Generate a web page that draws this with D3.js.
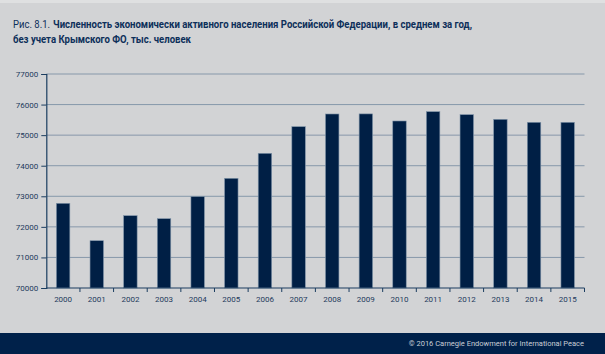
<!DOCTYPE html>
<html>
<head>
<meta charset="utf-8">
<script src="https://cdn.jsdelivr.net/npm/d3@7"></script>
<style>
  body { margin: 0; background: #d2d3d5; }
  svg { display: block; }
</style>
</head>
<body>
<div class="container"></div>
<script>
// chart data
const years = ["2000", "2001", "2002", "2003", "2004", "2005", "2006", "2007",
  "2008", "2009", "2010", "2011", "2012", "2013", "2014", "2015"];
const values = [72770, 71547, 72365, 72267, 72990, 73588, 74405, 75277,
  75692, 75695, 75463, 75768, 75670, 75517, 75420, 75420];
const yTicks = [70000, 71000, 72000, 73000, 74000, 75000, 76000, 77000];

const width = 605;
const height = 354;
const margin = { top: 74, bottom: 66, left: 46.3, right: 20.5 };
const font = "'Roboto', 'Noto Sans', sans-serif";

const svg = d3.select(".container")
  .append("svg")
  .attr("width", width)
  .attr("height", height)
  .style("font-family", font);

// background
svg.append("rect").attr("width", width).attr("height", height).attr("fill", "#d2d3d5");
svg.append("rect").attr("width", width).attr("height", 3).attr("fill", "#dfe0e1");

// title (condensed to the width of the original)
const titleParts = [
  { text: "Рис. 8.1.", x: 13, y: 28, len: 37, bold: false },
  { text: "Численность экономически активного населения Российской Федерации, в среднем за год,", x: 53, y: 28, len: 419, bold: true },
  { text: "без учета Крымского ФО, тыс. человек", x: 13, y: 43, len: 178, bold: true }
];
svg.append("g")
  .selectAll("text")
  .data(titleParts)
  .join("text")
  .attr("x", d => d.x)
  .attr("y", d => d.y)
  .attr("fill", "#0d2f5a")
  .attr("textLength", d => d.len)
  .attr("lengthAdjust", "spacingAndGlyphs")
  .style("font-size", "11px")
  .style("font-weight", d => d.bold ? "bold" : "normal")
  .text(d => d.text);

// scales
const xScale = d3.scaleBand()
  .domain(years)
  .range([margin.left, width - margin.right])
  .paddingInner(0.6)
  .paddingOuter(0.3);

const yScale = d3.scaleLinear()
  .domain([70000, 77000])
  .range([height - margin.bottom, margin.top]);

// grid lines
svg.append("g")
  .selectAll("line")
  .data(yTicks.slice(1))
  .join("line")
  .attr("x1", margin.left)
  .attr("x2", width - margin.right)
  .attr("y1", d => yScale(d))
  .attr("y2", d => yScale(d))
  .attr("stroke", "#8798aa")
  .attr("stroke-width", 1);

// bars
svg.append("g")
  .selectAll("rect")
  .data(values)
  .join("rect")
  .attr("x", (d, i) => xScale(years[i]))
  .attr("y", d => yScale(d))
  .attr("width", xScale.bandwidth())
  .attr("height", d => yScale(70000) - yScale(d))
  .attr("fill", "#001f45")
  .attr("stroke", "#7f93a8")
  .attr("stroke-width", 0.6);

// x axis: ticks at band boundaries
const step = xScale.step();
const boundaries = d3.range(years.length + 1).map(i => margin.left + i * step);
const xAxisG = svg.append("g");
xAxisG.append("line")
  .attr("x1", margin.left)
  .attr("x2", width - margin.right)
  .attr("y1", yScale(70000))
  .attr("y2", yScale(70000))
  .attr("stroke", "#1b3d60")
  .attr("stroke-width", 1.2);
xAxisG.selectAll(".tick")
  .data(boundaries.slice(1))
  .join("line")
  .attr("x1", d => d)
  .attr("x2", d => d)
  .attr("y1", yScale(70000))
  .attr("y2", yScale(70000) + 4)
  .attr("stroke", "#1b3d60")
  .attr("stroke-width", 1);
xAxisG.selectAll("text")
  .data(years)
  .join("text")
  .attr("x", d => xScale(d) + xScale.bandwidth() / 2)
  .attr("y", yScale(70000) + 14)
  .attr("text-anchor", "middle")
  .attr("fill", "#1e3a5c")
  .style("font-size", "8px")
  .text(d => d);

// y axis
function yAxis(g) {
  g.call(d3.axisLeft(yScale)
    .tickValues(yTicks)
    .tickSize(5)
    .tickPadding(3)
    .tickFormat(d3.format("d")))
    .attr("font-size", "8px")
    .attr("font-family", font);
  g.select(".domain").attr("stroke", "#1b3d60").attr("stroke-width", 1.2);
  g.selectAll(".tick line").attr("stroke", "#1b3d60");
  g.selectAll(".tick text").attr("fill", "#1e3a5c");
}
svg.append("g")
  .attr("transform", `translate(${margin.left}, 0)`)
  .call(yAxis);

// footer band
svg.append("rect")
  .attr("x", 0)
  .attr("y", 333)
  .attr("width", width)
  .attr("height", height - 333)
  .attr("fill", "#00214a");
svg.append("text")
  .attr("x", 584)
  .attr("y", 346)
  .attr("text-anchor", "end")
  .attr("fill", "#c9ced6")
  .style("font-size", "7.5px")
  .text("© 2016 Carnegie Endowment for International Peace");
</script>
</body>
</html>
